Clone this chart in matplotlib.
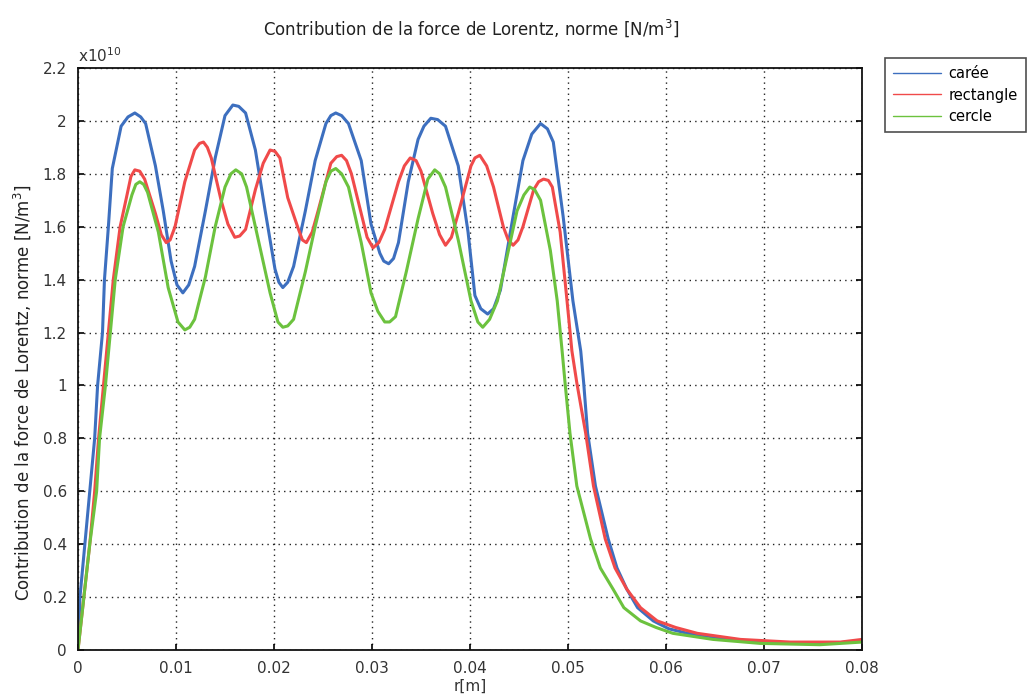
import matplotlib
matplotlib.use("Agg")
import matplotlib.pyplot as plt

# r [m] and force values (x1e10 N/m^3)
x_caree = [0.0000, 0.0002, 0.0007, 0.0012, 0.0017, 0.0020, 0.0025, 0.0027, 0.0031, 0.0035,
           0.0044, 0.0051, 0.0058, 0.0064, 0.0069, 0.0079, 0.0087, 0.0095, 0.0101, 0.0107,
           0.0113, 0.0119, 0.0130, 0.0140, 0.0150, 0.0158, 0.0164, 0.0171, 0.0181, 0.0191,
           0.0201, 0.0205, 0.0209, 0.0214, 0.0220, 0.0232, 0.0242, 0.0253, 0.0258, 0.0263,
           0.0269, 0.0276, 0.0289, 0.0299, 0.0308, 0.0312, 0.0317, 0.0322, 0.0327, 0.0337,
           0.0347, 0.0353, 0.0360, 0.0367, 0.0375, 0.0388, 0.0398, 0.0405, 0.0411, 0.0418,
           0.0424, 0.0431, 0.0444, 0.0454, 0.0463, 0.0472, 0.0479, 0.0485, 0.0495, 0.0505,
           0.0513, 0.0516, 0.0520, 0.0528, 0.0541, 0.0550, 0.0560, 0.0571, 0.0587, 0.0603,
           0.0622, 0.0666, 0.0717, 0.0768, 0.0800]
y_caree = [0.0, 0.2, 0.4, 0.6, 0.8, 1.0, 1.2, 1.4, 1.6, 1.82,
           1.98, 2.015, 2.03, 2.015, 1.99, 1.83, 1.66, 1.47, 1.38, 1.35,
           1.38, 1.45, 1.66, 1.86, 2.02, 2.06, 2.055, 2.03, 1.89, 1.66,
           1.44, 1.39, 1.37, 1.39, 1.45, 1.66, 1.85, 1.99, 2.02, 2.03,
           2.02, 1.99, 1.85, 1.61, 1.50, 1.47, 1.46, 1.48, 1.54, 1.77,
           1.93, 1.98, 2.01, 2.005, 1.98, 1.83, 1.58, 1.34, 1.29, 1.27,
           1.29, 1.36, 1.64, 1.85, 1.95, 1.99, 1.97, 1.92, 1.64, 1.32,
           1.13, 1.01, 0.82, 0.62, 0.42, 0.31, 0.23, 0.16, 0.11, 0.08,
           0.063, 0.04, 0.025, 0.025, 0.035]

x_rect = [0.0000, 0.0006, 0.0012, 0.0017, 0.0021, 0.0026, 0.0031, 0.0036, 0.0043, 0.0050,
          0.0054, 0.0058, 0.0063, 0.0068, 0.0079, 0.0085, 0.0090, 0.0094, 0.0099, 0.0109,
          0.0119, 0.0124, 0.0128, 0.0132, 0.0136, 0.0146, 0.0153, 0.0160, 0.0165, 0.0171,
          0.0181, 0.0189, 0.0196, 0.0201, 0.0206, 0.0214, 0.0225, 0.0229, 0.0233, 0.0239,
          0.0245, 0.0258, 0.0264, 0.0269, 0.0274, 0.0279, 0.0289, 0.0295, 0.0301, 0.0307,
          0.0313, 0.0327, 0.0333, 0.0339, 0.0345, 0.0350, 0.0362, 0.0369, 0.0375, 0.0381,
          0.0388, 0.0401, 0.0405, 0.0410, 0.0417, 0.0424, 0.0434, 0.0439, 0.0444, 0.0449,
          0.0454, 0.0465, 0.0470, 0.0475, 0.0480, 0.0484, 0.0492, 0.0499, 0.0504, 0.0509,
          0.0518, 0.0526, 0.0538, 0.0548, 0.0560, 0.0574, 0.0591, 0.0610, 0.0632, 0.0676,
          0.0727, 0.0778, 0.0800]
y_rect = [0.0, 0.2, 0.4, 0.6, 0.8, 1.0, 1.2, 1.4, 1.6, 1.72,
          1.79, 1.815, 1.81, 1.78, 1.65, 1.57, 1.54, 1.55, 1.60, 1.77,
          1.89, 1.915, 1.92, 1.90, 1.86, 1.70, 1.61, 1.56, 1.565, 1.59,
          1.74, 1.84, 1.89, 1.885, 1.86, 1.71, 1.59, 1.55, 1.54, 1.58,
          1.66, 1.84, 1.865, 1.87, 1.85, 1.80, 1.65, 1.56, 1.52, 1.54,
          1.59, 1.77, 1.83, 1.86, 1.85, 1.81, 1.65, 1.57, 1.53, 1.56,
          1.65, 1.83, 1.86, 1.87, 1.83, 1.75, 1.60, 1.55, 1.53, 1.55,
          1.60, 1.74, 1.77, 1.78, 1.775, 1.75, 1.58, 1.32, 1.13, 1.01,
          0.82, 0.62, 0.42, 0.31, 0.23, 0.16, 0.11, 0.085, 0.063, 0.04,
          0.03, 0.03, 0.04]

x_cercle = [0.0000, 0.0006, 0.0012, 0.0019, 0.0022, 0.0028, 0.0033, 0.0038, 0.0046, 0.0055,
            0.0059, 0.0063, 0.0067, 0.0071, 0.0082, 0.0092, 0.0102, 0.0109, 0.0114, 0.0119,
            0.0130, 0.0140, 0.0150, 0.0156, 0.0161, 0.0167, 0.0172, 0.0184, 0.0196, 0.0204,
            0.0209, 0.0214, 0.0220, 0.0232, 0.0242, 0.0253, 0.0258, 0.0263, 0.0269, 0.0276,
            0.0289, 0.0299, 0.0306, 0.0313, 0.0318, 0.0324, 0.0335, 0.0347, 0.0357, 0.0364,
            0.0369, 0.0375, 0.0388, 0.0401, 0.0408, 0.0413, 0.0420, 0.0428, 0.0438, 0.0448,
            0.0455, 0.0461, 0.0466, 0.0472, 0.0482, 0.0489, 0.0494, 0.0497, 0.0502, 0.0509,
            0.0523, 0.0533, 0.0546, 0.0557, 0.0574, 0.0590, 0.0607, 0.0648, 0.0696, 0.0757,
            0.0800]
y_cercle = [0.0, 0.2, 0.4, 0.6, 0.8, 1.0, 1.2, 1.4, 1.6, 1.72,
            1.76, 1.77, 1.76, 1.73, 1.58, 1.37, 1.24, 1.21, 1.22, 1.25,
            1.41, 1.60, 1.75, 1.80, 1.815, 1.80, 1.75, 1.55, 1.35, 1.24,
            1.22, 1.225, 1.25, 1.43, 1.60, 1.77, 1.81, 1.82, 1.80, 1.75,
            1.54, 1.35, 1.28, 1.24, 1.24, 1.26, 1.43, 1.63, 1.78, 1.815,
            1.80, 1.75, 1.55, 1.32, 1.24, 1.22, 1.25, 1.32, 1.49, 1.66,
            1.72, 1.75, 1.74, 1.70, 1.51, 1.32, 1.13, 1.01, 0.82, 0.62,
            0.42, 0.31, 0.23, 0.16, 0.11, 0.085, 0.063, 0.04, 0.025, 0.02,
            0.03]

labels = ["carée", "rectangle", "cercle"]
colors = ["#3d6fbf", "#f04a4a", "#6cc23e"]

x_ticks = [0, 0.01, 0.02, 0.03, 0.04, 0.05, 0.06, 0.07, 0.08]
x_ticklabels = ["0", "0.01", "0.02", "0.03", "0.04", "0.05", "0.06", "0.07", "0.08"]
y_ticks = [0, 0.2, 0.4, 0.6, 0.8, 1.0, 1.2, 1.4, 1.6, 1.8, 2.0, 2.2]
y_ticklabels = ["0", "0.2", "0.4", "0.6", "0.8", "1", "1.2", "1.4", "1.6", "1.8", "2", "2.2"]

plt.rcParams['font.family'] = ['DejaVu Sans']

fig = plt.figure(figsize=(10.27, 6.95), dpi=100)
ax = fig.add_axes([78/1027, 1-650/695, (862-78)/1027, (650-68)/695])

for xs, ys, lab, c in zip([x_caree, x_rect, x_cercle], [y_caree, y_rect, y_cercle], labels, colors):
    ax.plot(xs, ys, color=c, lw=2.2, label=lab, solid_joinstyle='round', solid_capstyle='round')

ax.set_xlim(0, 0.08)
ax.set_ylim(0, 2.2)
ax.set_xticks(x_ticks)
ax.set_xticklabels(x_ticklabels)
ax.set_yticks(y_ticks)
ax.set_yticklabels(y_ticklabels)
ax.tick_params(direction='in', length=4, width=1.2, colors='black', labelcolor='#333333',
               labelsize=11, top=False, right=True, pad=8)
ax.grid(True, color='#222222', linestyle=(0, (1, 3)), linewidth=1.0)
for s in ax.spines.values():
    s.set_color('#111111')
    s.set_linewidth(1.3)

ax.text(0.0, 1.005, "x10$^{10}$", transform=ax.transAxes, fontsize=11, color='#333333',
        ha='left', va='bottom')

fig.text(0.459, 1-28/695, "Contribution de la force de Lorentz, norme [N/m$^3$]",
         fontsize=12, color='#222222', ha='center', va='center')
fig.text(0.458, 1-686/695, "r[m]", fontsize=11, color='#333333', ha='center', va='center')
fig.text(22/1027, 1-393/695, "Contribution de la force de Lorentz, norme [N/m$^3$]", rotation=90,
         fontsize=12, color='#222222', ha='center', va='center')

leg = ax.legend(loc='upper left', bbox_to_anchor=(885/1027, 1-58/695), bbox_transform=fig.transFigure,
                borderaxespad=0, frameon=True, fancybox=False, fontsize=10.5, handlelength=3.3,
                labelspacing=0.45, handletextpad=0.5, borderpad=0.55)
leg.get_frame().set_edgecolor('#222222')
leg.get_frame().set_linewidth(1.2)
for line in leg.get_lines():
    line.set_linewidth(1.0)

fig.savefig("out.png", dpi=100)
